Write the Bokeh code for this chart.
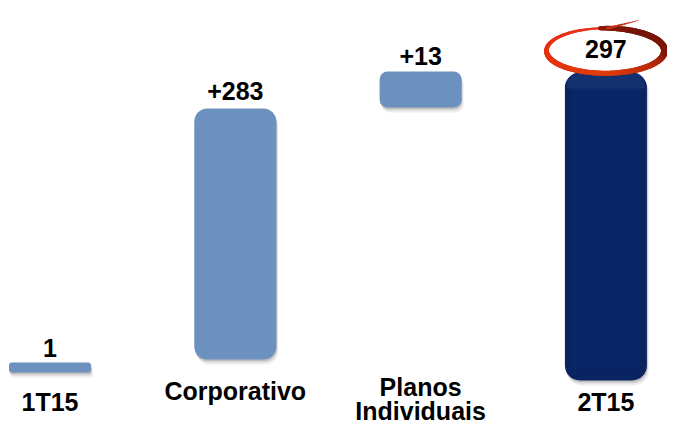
import numpy as np
from bokeh.plotting import figure
from bokeh.models import Range1d
from bokeh.core.properties import value
from bokeh.embed import file_html
from bokeh.resources import INLINE

# ---- data -------------------------------------------------------------
categories = ["1T15", "Corporativo", "Planos\nIndividuais", "2T15"]
values = [1, 283, 13, 297]
kinds = ["total", "delta", "delta", "total"]
# bar extents as drawn in the picture (value units)
bar_bottom = [7.7, 20.3, 263.3, 0.0]
bar_top = [17.4, 262.3, 298.0, 297.0]

# ---- styling ----------------------------------------------------------
W, H = 667, 425
PX_X = 185.3            # pixels per category step
PX_Y = 308.0 / 297.0    # pixels per value unit
ZERO_PX = 380.0         # canvas row of value 0
FIRST_PX = 49.5         # canvas column of the first category
bar_colors = ["#6c91bf", "#6c91bf", "#6c91bf", "#0a2461"]
radii = [3, 13, 8, 15]
label_gap = [14, 17, 15, 24]
cat_offsets = [[21], [10], [6, 30], [21]]
FONT = value("Liberation Sans")

p = figure(width=W, height=H, output_backend="svg", toolbar_location=None,
           x_range=Range1d(-FIRST_PX / PX_X, (W - FIRST_PX) / PX_X),
           y_range=Range1d(-(H - ZERO_PX) / PX_Y, ZERO_PX / PX_Y),
           min_border=0, outline_line_color=None)
p.axis.visible = False
p.grid.visible = False
p.background_fill_color = "white"
p.border_fill_color = "white"

hw = 41.0 / PX_X
for i in range(len(categories)):
    b, t, r = bar_bottom[i], bar_top[i], radii[i]
    # soft shadow
    for dy, dx, a in [(5, 2, 0.10), (3, 1, 0.15), (1.5, 0.5, 0.2)]:
        p.quad(left=[i - hw + dx / PX_X], right=[i + hw + dx / PX_X],
               bottom=[b - dy / PX_Y], top=[t - dy / PX_Y],
               fill_color="#555555", fill_alpha=a, line_color=None,
               border_radius=r)
    p.quad(left=[i - hw], right=[i + hw], bottom=[b], top=[t],
           fill_color=bar_colors[i], line_color=None, border_radius=r)
    if i == 3:
        # subtle bevel look of the dark total bar
        p.quad(left=[i - hw + 8 / PX_X], right=[i + hw - 8 / PX_X],
               bottom=[b + 12 / PX_Y], top=[t - 14 / PX_Y],
               fill_color="#0b2666", line_color=None)
        p.quad(left=[i - hw + 2 / PX_X], right=[i + hw - 2 / PX_X],
               bottom=[t - 16 / PX_Y], top=[t - 1 / PX_Y],
               fill_color="#2a4c92", fill_alpha=0.3, line_color=None,
               border_radius=(13, 13, 0, 0))

# value labels
labels = [(f"+{v}" if k == "delta" else f"{v}") for v, k in zip(values, kinds)]
p.text(x=list(range(len(values))), y=bar_top, text=labels,
       y_offset=[-g for g in label_gap],
       text_font=FONT, text_font_style="bold", text_font_size="25px",
       text_align="center", text_baseline="alphabetic", text_color="black")

# category labels
cx, cy, ct, co = [], [], [], []
for i, c in enumerate(categories):
    for line, off in zip(c.split("\n"), cat_offsets[i]):
        cx.append(i)
        cy.append(0)
        ct.append(line)
        co.append(off)
p.text(x=cx, y=cy, text=ct, y_offset=co,
       text_font=FONT, text_font_style="bold", text_font_size="25px",
       text_align="center", text_baseline="alphabetic", text_color="black")

# hand-drawn red ellipse around the final total
ecx = 3 + (605 - 605.4) / PX_X
ecy = bar_top[3] + 21.0
ea = 59.0 / PX_X
eb = 22.5 / PX_Y
keys = np.array([90, 150, 200, 270, 330, 360, 420, 455], dtype=float)
kr = np.array([230, 232, 228, 226, 180, 130, 115, 140], dtype=float)
kg = np.array([52, 48, 50, 60, 40, 24, 20, 26], dtype=float)
kb = np.array([28, 22, 15, 12, 10, 8, 8, 10], dtype=float)
kw = np.array([2.0, 3.5, 5.5, 5.0, 6.0, 7.0, 6.0, 4.5])
th = np.linspace(90, 455, 160)
x = ecx + ea * np.cos(np.radians(th))
y = ecy + eb * np.sin(np.radians(th))
tm = (th[:-1] + th[1:]) / 2
cols = ["#%02x%02x%02x" % (int(np.interp(t, keys, kr)), int(np.interp(t, keys, kg)),
                           int(np.interp(t, keys, kb))) for t in tm]
wid = list(np.interp(tm, keys, kw))
p.segment(x0=x[:-1], y0=y[:-1], x1=x[1:], y1=y[1:], line_color=cols,
          line_width=wid, line_cap="round")
# tail flick at the top
tx = np.linspace(ecx + 2 / PX_X, ecx + 33 / PX_X, 12)
ty = np.linspace(ecy + eb, ecy + eb + 7.5, 12)
tw = list(np.linspace(2.5, 0.6, 11))
p.segment(x0=tx[:-1], y0=ty[:-1], x1=tx[1:], y1=ty[1:], line_color="#c8321a",
          line_width=tw, line_cap="round")

open("out.html", "w").write(file_html(p, INLINE))
